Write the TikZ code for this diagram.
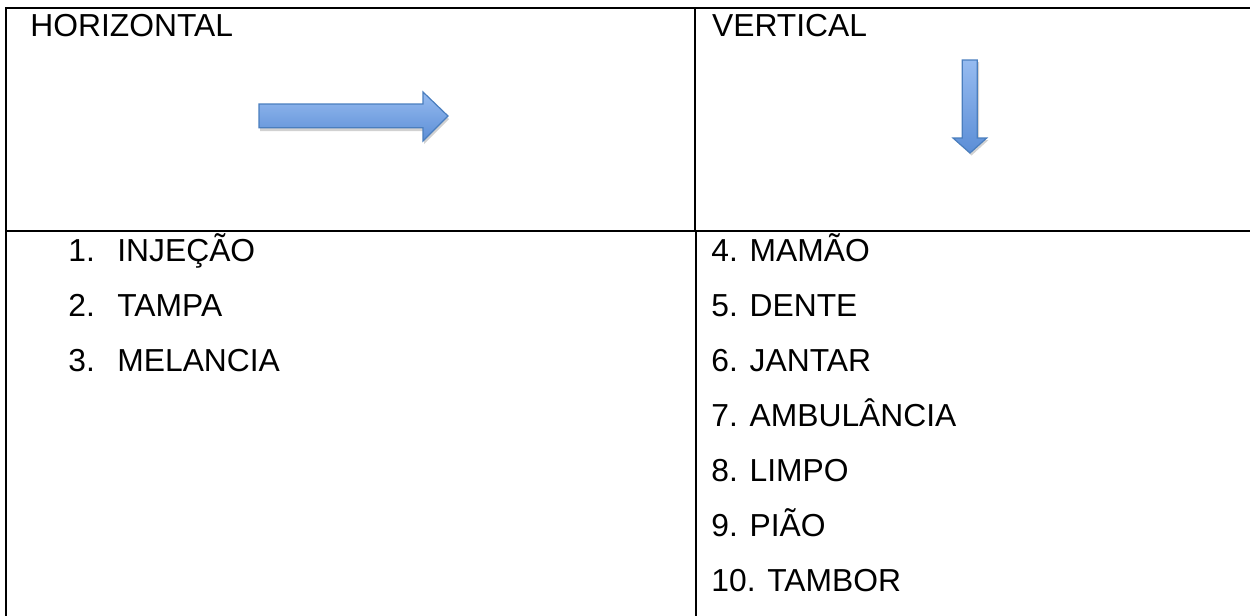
\documentclass[tikz,border=0pt]{standalone}
\usepackage{fontspec}
\setmainfont{Liberation Sans}
\begin{document}
\begin{tikzpicture}[x=0.5pt,y=-0.5pt,
  rule/.style={line width=1pt,black},
  lbl/.style={inner sep=0pt,anchor=base west,font=\fontsize{15.9pt}{18pt}\selectfont},
  bluearrow/.style={draw={rgb,255:red,74;green,126;blue,190},line width=0.6pt,line join=miter,
     top color={rgb,255:red,150;green,187;blue,240},bottom color={rgb,255:red,92;green,142;blue,214}},
  arrowshadow/.style={fill=black,fill opacity=0.18,draw=none}]
\useasboundingbox (0,0) rectangle (1250,616);
% table rules
\draw[rule] (6,7.5) -- (1250,7.5);
\draw[rule] (6,7) -- (6,616);
\draw[rule] (695,7) -- (695,231);
\draw[rule] (696,231) -- (696,616);
\draw[rule] (6,231) -- (1250,231);
% headers
\node[lbl] (h) at (30,36.7) {HORIZONTAL};
\node[lbl] (v) at (711.7,36.7) {VERTICAL};
% horizontal arrow
\fill[arrowshadow] (260,107) -- (424,107) -- (424,95) -- (449,119) -- (424,144) -- (424,131) -- (260,131) -- cycle;
\draw[bluearrow] (259,104) -- (423,104) -- (423,92) -- (448,116) -- (423,141) -- (423,127.7) -- (259,127.7) -- cycle;
% vertical arrow
\fill[arrowshadow] (964,62) -- (979,62) -- (979,140) -- (988.5,140) -- (971.5,155.5) -- (955,140) -- (964,140) -- cycle;
\draw[bluearrow] (962.3,60) -- (977.3,60) -- (977.3,138) -- (986.7,138) -- (970,153) -- (953,138) -- (962.3,138) -- cycle;
% left list
\node[lbl] (n1) at (68,261.5) {1.};
\node[lbl] (t1) at (117,261.5) {INJEÇÃO};
\node[lbl] (n2) at (68,316.5) {2.};
\node[lbl] (t2) at (117,316.5) {TAMPA};
\node[lbl] (n3) at (68,371.5) {3.};
\node[lbl] (t3) at (117,371.5) {MELANCIA};
% right list
\node[lbl] (r4) at (711,261.5) {4. MAMÃO};
\node[lbl] (r5) at (711,316.5) {5. DENTE};
\node[lbl] (r6) at (711,371.5) {6. JANTAR};
\node[lbl] (r7) at (711,426.5) {7. AMBULÂNCIA};
\node[lbl] (r8) at (711,481.5) {8. LIMPO};
\node[lbl] (r9) at (711,536.5) {9. PIÃO};
\node[lbl] (r10) at (711,591.5) {10. TAMBOR};
\end{tikzpicture}
\end{document}
